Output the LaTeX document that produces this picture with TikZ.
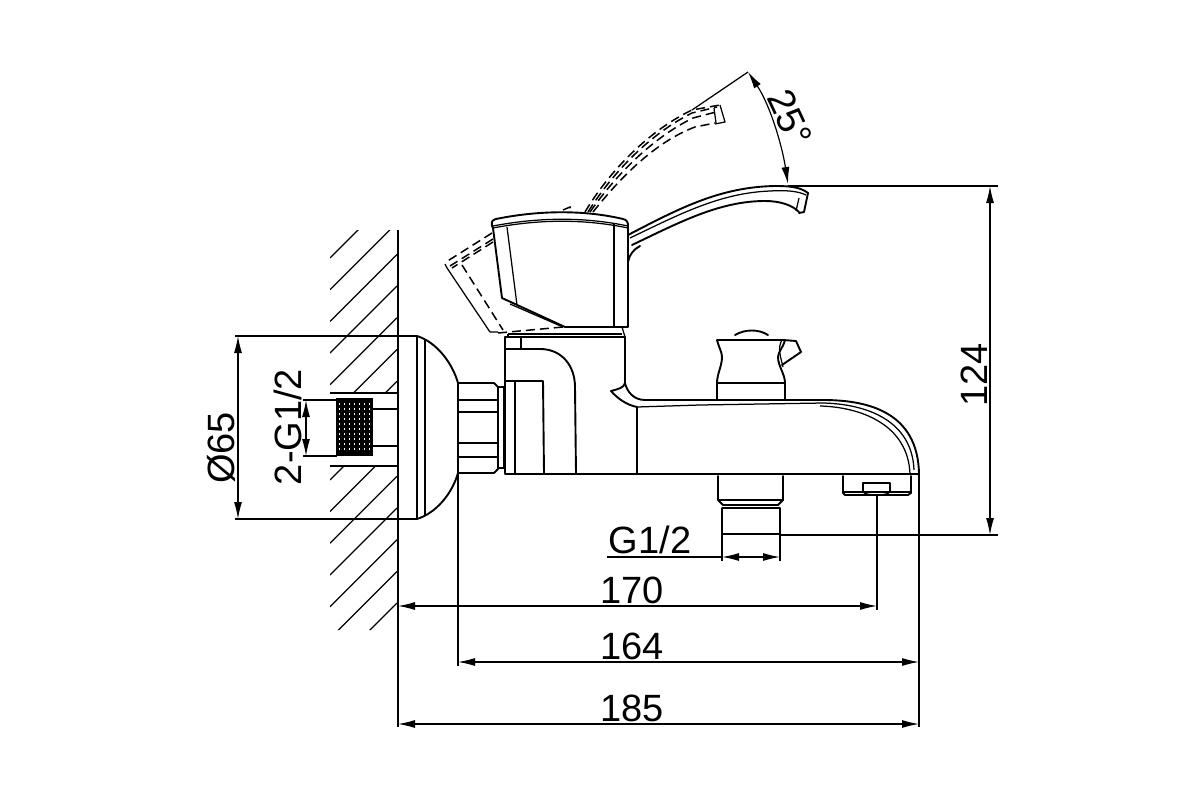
\documentclass[tikz,border=0pt]{standalone}
\usepackage{fontspec}
\setmainfont{Liberation Sans}
\usetikzlibrary{arrows.meta, positioning}
\tikzstyle{outline} = [line width=1.9pt, line join=round, line cap=round]
\tikzstyle{thin line} = [line width=1.25pt, line join=round]
\tikzstyle{hidden line} = [line width=1.5pt, dash pattern=on 9pt off 5pt]
\tikzstyle{dim} = [line width=1.2pt, {Latex[length=17pt,width=8pt]}-{Latex[length=17pt,width=8pt]}]
\tikzstyle{label} = [inner sep=0pt, font=\fontsize{38}{38}\selectfont]

\begin{document}
\begin{tikzpicture}[x=1pt,y=-1pt]
  \useasboundingbox (0,0) rectangle (1200,800);
  % wall
  \begin{scope}
    \clip (330,230) rectangle (397,393) (330,466) rectangle (397,630);
    \foreach \c in {588,619.7,...,1001} {
      \draw[thin line] (330,\c-330) -- (397,\c-397);
    }
  \end{scope}
  \draw[thin line] (330,393) -- (398,393);
  \draw[thin line] (330,466) -- (398,466);
  % thread in the wall
  \fill[black] (336,398) rectangle (373,456);
  \foreach \x in {339,344,...,372} {
    \draw[white, line width=0.4pt, dash pattern=on 2pt off 3pt] (\x,403) -- (\x,452);
  }
  \draw[thin line] (373,409) -- (398,409);
  \draw[thin line] (373,446) -- (398,446);
  % escutcheon
  \draw[outline] (398,336) -- (417,336) .. controls (436,342) and (452,362) .. (458,383);
  \draw[outline] (398,519) -- (417,519) .. controls (436,513) and (452,494) .. (458,473);
  \draw[thin line] (417,336) -- (417,519);
  \draw[thin line] (425,339) -- (425,515);
  % nut
  \draw[outline] (458,383) -- (458,473) -- (494,473) -- (498,469) -- (498,387) -- (494,383) -- cycle;
  \draw[thin line] (458,400) -- (498,400);
  \draw[thin line] (458,412) -- (498,412);
  \draw[thin line] (458,443) -- (498,443);
  \draw[thin line] (458,457) -- (498,457);
  \draw[thin line] (498,387) -- (504,387);
  \draw[thin line] (498,468) -- (504,468);
  \draw[thin line] (504,387) -- (504,468);
  % body
  \draw[outline] (505,337) -- (625,337) -- (625,383)
    .. controls (624,388) and (618,389) .. (611,391)
    .. controls (618,399) and (627,405) .. (637,407)
    -- (637,474);
  \draw[outline] (505,337) -- (505,474);
  \draw[line width=2.4pt] (505,474) -- (919,474);
  \draw[thin line] (508,334) -- (622,334);
  \draw[thin line] (508,334) -- (508,337);
  \draw[thin line] (622,327) -- (625,337);
  \draw[thin line] (521,337) -- (521,349);
  \draw[outline] (506,349) -- (540,349) .. controls (562,349) and (575,366) .. (575,387) -- (576,474);
  \draw[outline] (506,381) -- (543,381) -- (544,474);
  \draw[thin line] (515,381) -- (515,474);
  % spout
  \draw[outline] (625,383) .. controls (627,392) and (634,400) .. (645,400)
    -- (823,400) .. controls (868,400) and (918,412) .. (919,474);
  \draw[thin line] (637,407) -- (700,405) -- (823,403) .. controls (866,404) and (912,420) .. (914,470);
  \draw[thin line] (820,406) .. controls (860,407) and (908,424) .. (910,474);
  % knob
  \draw[outline] (735,335) .. controls (745,329) and (759,329) .. (768,335);
  \draw[line width=2.6pt] (717,340) -- (785,340);
  \draw[outline] (717,340) .. controls (719,348) and (722,352) .. (722,357)
    .. controls (722,366) and (717,374) .. (717,383) -- (717,399);
  \draw[outline] (785,340) .. controls (783,348) and (778,352) .. (778,357)
    .. controls (778,366) and (785,374) .. (785,383) -- (785,399);
  \draw[thin line] (717,383) -- (785,383);
  \draw[outline] (783,340) -- (796,341) -- (801,352) -- (782,365);
  \draw[thin line] (782,340) .. controls (777,348) and (781,358) .. (783,367);
  % nipple
  \draw[outline] (718,476) -- (718,500) -- (723,505) -- (778,505) -- (783,500) -- (783,476);
  \draw[thin line] (718,500) -- (783,500);
  \draw[line width=2.4pt] (722,508) -- (780,508);
  \draw[outline] (722,508) -- (722,534) -- (780,534) -- (780,508);
  % aerator
  \draw[outline] (843,476) -- (843,493) -- (845,495) -- (908,495) -- (911,493) -- (911,476);
  \draw[thin line] (844,492) -- (910,492);
  \draw[thin line] (863,492) -- (863,483) -- (890,483) -- (890,492);
  \draw[thin line] (863,492) .. controls (866,496) and (887,496) .. (890,492);
  % lever
  \draw[outline] (492,226) .. controls (491,221) and (493,220) .. (496,219)
    .. controls (540,210) and (585,210) .. (623,219)
    .. controls (627,220) and (628,222) .. (628,226) -- (628,327) -- (565,327) -- (502,298) -- (493,228) -- cycle;
  \draw[thin line] (493,228) .. controls (540,219) and (585,219) .. (628,228);
  \draw[thin line] (493,226) .. controls (540,217) and (585,217) .. (628,226);
  \draw[thin line] (507,227) -- (517,305);
  \draw[thin line] (614,224) -- (614,327);
  \draw[thin line] (510,304) -- (563,327);
  \draw[outline] (628,235) .. controls (680,208) and (720,187) .. (775,186)
    .. controls (790,186) and (800,187) .. (808,193);
  \draw[thin line] (630,238) .. controls (680,214) and (720,193) .. (770,191) .. controls (785,190) and (798,191) .. (806,195);
  \draw[outline] (632,245) .. controls (680,222) and (720,201) .. (765,201)
    .. controls (780,201) and (792,205) .. (799,212);
  \draw[outline] (808,193) -- (804,212) -- (799,213);
  \draw[thin line] (799,198) -- (796,211);
  \draw[outline] (628,262) .. controls (629,255) and (634,249) .. (640,246);
  % lever, other positions
  \draw[hidden line] (585,212) .. controls (610,170) and (650,130) .. (692,110) -- (720,105);
  \draw[hidden line] (588,212) .. controls (613,172) and (650,134) .. (692,113) -- (717,107);
  \draw[hidden line] (590,212) .. controls (616,175) and (652,138) .. (693,118) -- (716,112);
  \draw[hidden line] (593,212) .. controls (620,178) and (655,142) .. (695,127) -- (715,123);
  \draw[thin line] (720,105) -- (725,122) -- (715,124);
  \draw[thin line] (714,108) -- (716,123);
  \draw[hidden line] (492,233) -- (446,262);
  \draw[thin line] (445,264) -- (447,268) -- (490,332) -- (498,332);
  \draw[hidden line] (493,239) -- (450,266);
  \draw[hidden line] (493,242) -- (452,268);
  \draw[hidden line] (462,265) -- (503,330);
  \draw[hidden line] (498,333) -- (563,327);
  \draw[hidden line] (563,210) -- (570,207) -- (572,212);
  % dimensions
  \coordinate (wall top) at (398,230);
  \coordinate (wall foot) at (398,727);
  \draw[thin line] (wall top) -- (wall foot);
  \draw[thin line] (235,336) -- (398,336);
  \draw[thin line] (235,519) -- (398,519);
  \draw[dim] (238,336) -- (238,519);
  \node[label, rotate=90] (dia) at (221,448) {Ø65};
  \draw[thin line] (303,400) -- (337,400);
  \draw[thin line] (303,456) -- (337,456);
  \draw[dim] (306,400) -- (306,456);
  \node[label, rotate=90] (thread) at (288,427) {2-G1/2};
  \coordinate (lever tip) at (748,72);
  \draw[thin line] (692,110) -- (lever tip);
  \draw[dim] (lever tip) .. controls (770,105) and (782,145) .. (788,184);
  \node[label, rotate=-65] (angle) at (790,118) {25°};
  \draw[thin line] (788,186) -- (998,186);
  \draw[thin line] (780,535) -- (998,535);
  \draw[dim] (990,186) -- (990,535);
  \node[label, rotate=90] (height) at (974,375) {124};
  \draw[thin line] (607,557) -- (722,557);
  \draw[thin line] (722,534) -- (722,561);
  \draw[thin line] (780,534) -- (780,561);
  \draw[dim] (722,557) -- (780,557);
  \node[label] (nipple) at (650,540) {G1/2};
  \coordinate (aerator) at (877,496);
  \draw[thin line] (aerator) -- (877,610);
  \draw[dim] (398,606) -- (877,606);
  \node[label] (width a) at (632,590) {170};
  \coordinate (nut edge) at (458,473);
  \draw[thin line] (nut edge) -- (458,666);
  \draw[dim] (458,662) -- (919,662);
  \node[label] (width b) at (632,646) {164};
  \draw[thin line] (919,474) -- (919,727);
  \draw[dim] (398,724) -- (919,724);
  \node[label] (width c) at (632,708) {185};
\end{tikzpicture}
\end{document}
